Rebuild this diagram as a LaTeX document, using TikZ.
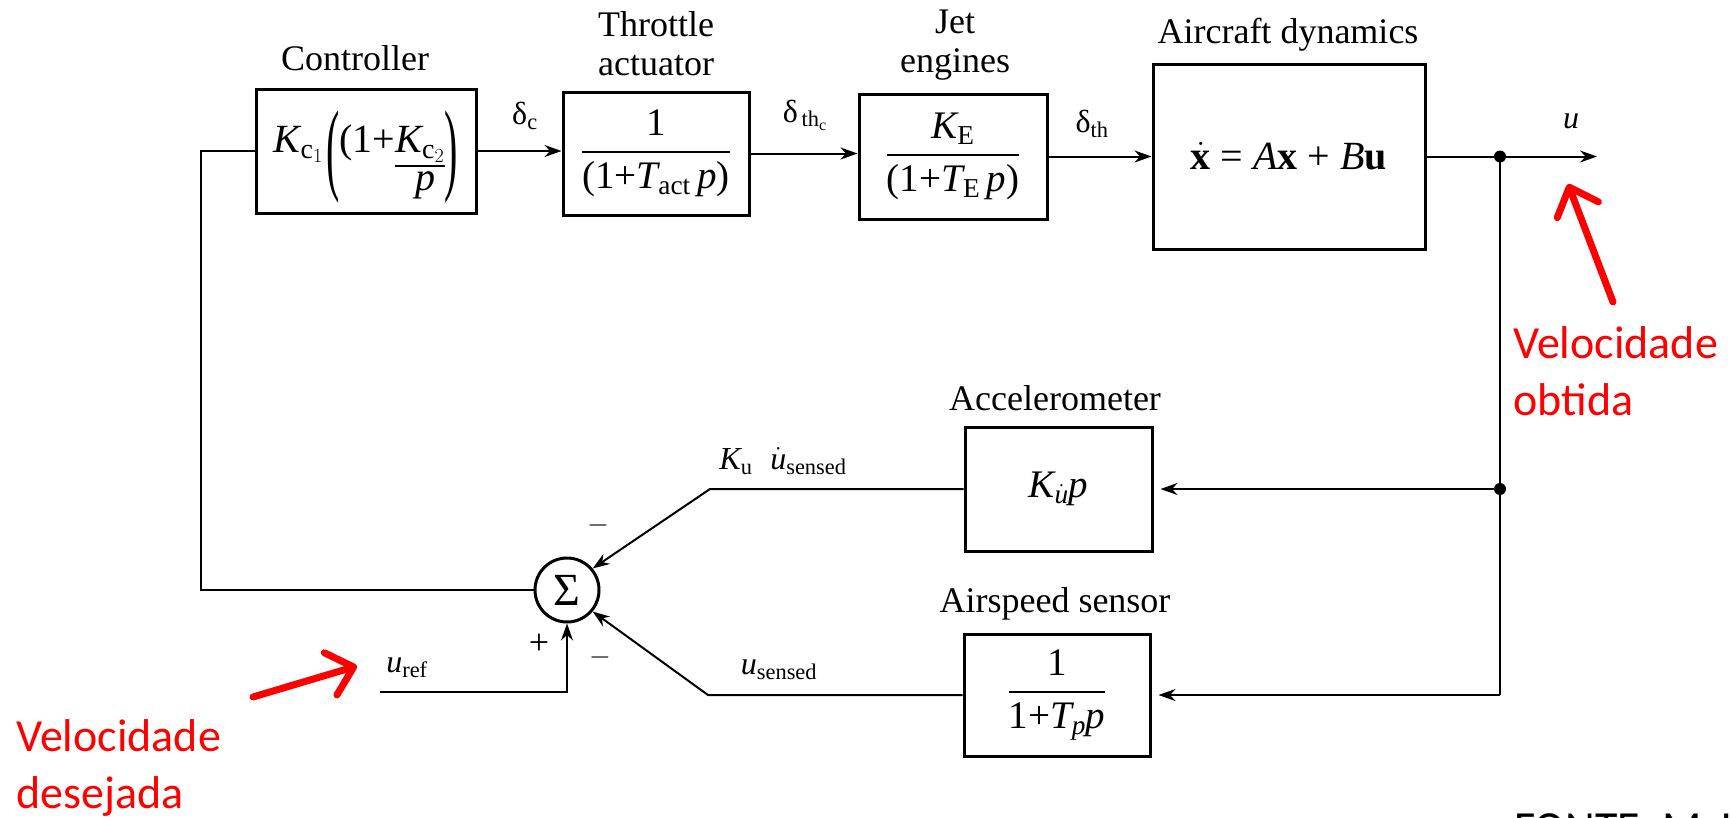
\RequirePackage{fix-cm}
\documentclass[tikz,border=0pt]{standalone}
\usepackage{graphicx}
\usepackage{fontspec}
\setmainfont{Liberation Serif}
\newfontfamily\redfont{Carlito}
\usetikzlibrary{arrows.meta}
\newcommand\tx[1]{\mbox{#1}}
\newcommand\stackfrac[2]{\vtop{\halign{\hfil##\hfil\cr#1\cr\noalign{\kern3pt\hrule height 2pt\kern4pt}#2\cr}}}
\newcommand\bigparen[1]{\raisebox{-29pt}{\scalebox{1}[2.55]{#1}}}
\begin{document}
\begin{tikzpicture}[x=1pt,y=-1pt,
  blk/.style={draw,line width=3pt,inner sep=0pt,font=\fontsize{39}{44}\selectfont},
  lbl/.style={font=\fontsize{36}{39}\selectfont,inner sep=0pt},
  sig/.style={font=\fontsize{32}{36}\selectfont,inner sep=0pt},
  wire/.style={line width=2pt},
  arr/.style={wire,-{Stealth[length=17pt,width=12pt]}},
  redarr/.style={draw=red,line width=7pt,line cap=round,-{Straight Barb[length=24pt,width=44pt,round]}},
  redtxt/.style={text=red,font=\redfont\fontsize{46}{57}\selectfont,inner sep=0pt,anchor=base west}
]
\path[fill=white] (0,0) rectangle (1732,817);
\useasboundingbox (0,0) rectangle (1732,817);
\clip (0,0) rectangle (1732,817);

% blocks
\node[blk,font=\fontsize{40}{44}\selectfont,minimum width=220pt,minimum height=124pt,text height=42pt,text depth=40pt] (ctrl) at (366,151)
  {$\mathit{K}_{\mathrm{c}_1}$\kern3pt\bigparen{(}(1+\stackfrac{$\mathit{K}_{\mathrm{c}_2}$}{\kern10pt$\mathit{p}$}\bigparen{)}};
\node[blk,minimum width=186pt,minimum height=123pt] (thr) at (656,153.5)
  {$\displaystyle{\tx{1}\above 2.2pt \tx{(1+}\mathit{T}_{\mathrm{act}}\,\mathit{p}\tx{)}}$};
\node[blk,minimum width=188pt,minimum height=125pt] (jet) at (953,156.5)
  {$\displaystyle{\mathit{K}_{\mathrm{E}}\above 2.2pt \tx{(1+}\mathit{T}_{\mathrm{E}}\,\mathit{p}\tx{)}}$};
\node[blk,font=\fontsize{40}{44}\selectfont,minimum width=272pt,minimum height=185pt] (ac) at (1289,156.5)
  {$\dot{\mathbf{x}}\tx{ = }\mathit{A}\mathbf{x}\tx{ + }\mathit{B}\mathbf{u}$};
\node[blk,minimum width=187pt,minimum height=124pt] (acc) at (1058.5,489)
  {$\mathit{K}_{\dot{\mathit{u}}}\mathit{p}$};
\node[blk,minimum width=186pt,minimum height=122pt] (asp) at (1057,695)
  {$\displaystyle{\tx{1}\above 2.2pt \tx{1+}\mathit{T}_{\mathit{p}}\mathit{p}}$};
\node[circle,draw,line width=3pt,minimum size=64pt,inner sep=0pt,font=\fontsize{46}{46}\selectfont] (sum) at (567,590) {Σ};

% block titles
\node[lbl] (lctrl) at (355,58) {Controller};
\node[lbl,align=center] (lthr) at (656,44) {Throttle\\actuator};
\node[lbl,align=center] (ljet) at (955,45) {Jet\\engines};
\node[lbl] (lac) at (1288,35) {Aircraft dynamics};
\node[lbl] (lacc) at (1055,398) {Accelerometer};
\node[lbl] (lasp) at (1055,604) {Airspeed sensor};

% signal labels
\node[sig] (ldc) at (525,116) {$\mbox{δ}_{\mathrm{c}}$};
\node[sig] (ldthc) at (805,115) {$\mbox{δ}_{\,\mathrm{th}_{\mathrm{c}}}$};
\node[sig] (ldth) at (1092,124) {$\mbox{δ}_{\mathrm{th}}$};
\node[sig] (lu) at (1571,121) {$\mathit{u}$};
\node[sig] (lku) at (783,461) {$\mathit{K}_{\mathrm{u}}\;\;\dot{\mathit{u}}_{\mathrm{sensed}}$};
\node[sig] (lus) at (779,670) {$\mathit{u}_{\mathrm{sensed}}$};
\node[sig] (luref) at (407,668) {$\mathit{u}_{\mathrm{ref}}$};
\node[font=\fontsize{36}{36}\selectfont,inner sep=0pt] (plus) at (539,644) {+};
\node[font=\fontsize{28}{28}\selectfont,inner sep=0pt] (mtop) at (598,525) {$-$};
\node[font=\fontsize{28}{28}\selectfont,inner sep=0pt] (mbot) at (600,657) {$-$};

% junctions and bends
\coordinate (J1) at (1500,156.5);
\coordinate (uout) at (1597,156.5);
\coordinate (J2) at (1500,489);
\coordinate (J3) at (1500,695);
\coordinate (kbend) at (710,489);
\coordinate (sbend) at (708,695);
\coordinate (fbl) at (201,590);
\coordinate (urefs) at (380,692);

% forward path
\draw[arr] (ctrl.east) -- (ctrl.east -| thr.west);
\draw[arr] (thr.east) -- (thr.east -| jet.west);
\draw[arr] (jet.east) -- (jet.east -| ac.west);
\draw[arr] (ac.east) -- (uout);
% feedback
\draw[wire] (J1) -- (J3);
\draw[arr,shorten >=7pt] (J2) -- (acc.east);
\draw[arr,shorten >=7pt] (J3) -- (asp.east);
\fill (J1) circle (6pt);
\fill (J2) circle (6pt);
\draw[arr] (acc.west) -- (kbend) -- (sum.40);
\draw[arr] (asp.west) -- (sbend) -- (sum.-40);
\draw[wire] (sum.west) -- (fbl) |- (ctrl.west);
\draw[arr] (urefs) -| (sum.south);

% red annotations
\coordinate (ra1t) at (1613,302);
\coordinate (ra1h) at (1568,184);
\coordinate (ra2t) at (253,697);
\coordinate (ra2h) at (357,666);
\draw[redarr] (ra1t) -- (ra1h);
\draw[redarr] (ra2t) -- (ra2h);
\node[redtxt] (vo1) at (1513,358) {Velocidade};
\node[redtxt] (vo2) at (1513,415) {obtida};
\node[redtxt] (vd1) at (16,751) {Velocidade};
\node[redtxt] (vd2) at (16,808) {desejada};
\node[anchor=base west,font=\redfont\fontsize{46}{46}\selectfont,inner sep=0pt] (fonte) at (1514,843) {FONTE: McLean};
\end{tikzpicture}
\end{document}
